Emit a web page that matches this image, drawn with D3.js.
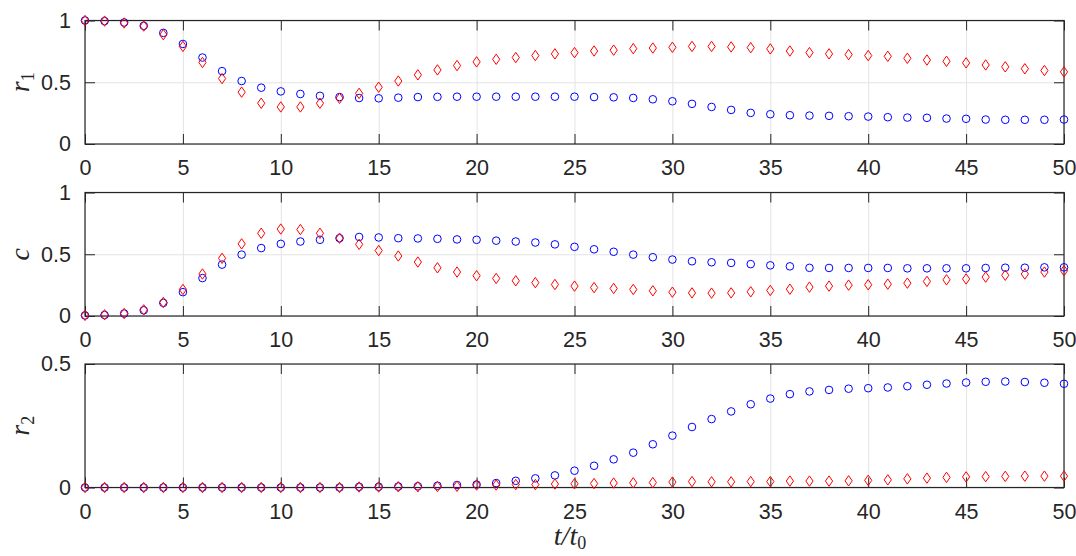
<!DOCTYPE html>
<html><head><meta charset="utf-8">
<script src="https://cdn.jsdelivr.net/npm/d3@7"></script>
<style>body{margin:0;background:#fff}svg{display:block}</style>
</head><body>
<svg id="c" width="1076" height="556"></svg>
<script>
const tVals = [0,1,2,3,4,5,6,7,8,9,10,11,12,13,14,15,16,17,18,19,20,21,22,23,24,25,26,27,28,29,30,31,32,33,34,35,36,37,38,39,40,41,42,43,44,45,46,47,48,49,50];
const xTicks = [0,5,10,15,20,25,30,35,40,45,50];
const yTicksA = [0,0.5,1];
const yTicksB = [0,0.5];
const r1Blue = [1.0,0.995,0.984,0.957,0.90,0.81,0.70,0.59,0.51,0.456,0.426,0.405,0.39,0.38,0.372,0.37,0.375,0.38,0.382,0.383,0.383,0.383,0.383,0.383,0.383,0.383,0.38,0.378,0.373,0.362,0.346,0.325,0.30,0.276,0.252,0.241,0.233,0.23,0.228,0.225,0.222,0.217,0.214,0.212,0.206,0.204,0.198,0.196,0.196,0.196,0.198];
const r1Red = [1.0,0.995,0.98,0.955,0.885,0.79,0.66,0.53,0.42,0.33,0.30,0.30,0.33,0.37,0.41,0.46,0.51,0.56,0.60,0.635,0.665,0.686,0.70,0.716,0.73,0.74,0.753,0.76,0.772,0.777,0.783,0.79,0.79,0.786,0.78,0.77,0.753,0.74,0.73,0.724,0.716,0.71,0.694,0.68,0.67,0.657,0.64,0.625,0.609,0.595,0.584];
const cBlue = [0.005,0.008,0.02,0.046,0.106,0.193,0.307,0.416,0.497,0.55,0.584,0.603,0.617,0.63,0.64,0.636,0.63,0.628,0.625,0.62,0.617,0.61,0.603,0.595,0.58,0.56,0.54,0.52,0.497,0.476,0.457,0.443,0.435,0.43,0.42,0.41,0.402,0.39,0.389,0.389,0.389,0.389,0.386,0.386,0.386,0.386,0.389,0.391,0.391,0.394,0.394];
const cRed = [0.005,0.01,0.02,0.05,0.11,0.215,0.34,0.467,0.584,0.67,0.704,0.70,0.67,0.63,0.58,0.53,0.486,0.437,0.39,0.356,0.326,0.304,0.285,0.27,0.255,0.242,0.23,0.223,0.215,0.204,0.193,0.187,0.185,0.187,0.196,0.207,0.217,0.234,0.242,0.25,0.253,0.258,0.266,0.28,0.293,0.30,0.315,0.33,0.34,0.356,0.367];
const r2Blue = [0,0,0,0,0,0,0,0,0,0,0,0,0,0,0.003,0.003,0.004,0.005,0.007,0.01,0.012,0.018,0.027,0.037,0.049,0.068,0.088,0.114,0.141,0.175,0.21,0.245,0.277,0.308,0.337,0.36,0.378,0.389,0.395,0.40,0.402,0.405,0.41,0.416,0.421,0.425,0.428,0.429,0.427,0.424,0.42];
const r2Red = [0,0,0,0,0,0,0,0,0,0,0,0,0,0,0.002,0.002,0.003,0.003,0.004,0.005,0.01,0.01,0.012,0.012,0.014,0.015,0.016,0.018,0.019,0.02,0.022,0.024,0.023,0.023,0.024,0.024,0.026,0.026,0.026,0.027,0.029,0.031,0.035,0.038,0.041,0.043,0.044,0.045,0.046,0.046,0.046];

const panels = [
  {blue:r1Blue, red:r1Red, ymax:1, yt:yTicksA, label:"r", sub:"1"},
  {blue:cBlue, red:cRed, ymax:1, yt:yTicksA, label:"c", sub:""},
  {blue:r2Blue, red:r2Red, ymax:0.5, yt:yTicksB, label:"r", sub:"2"}
];
const tops = [20.5, 192.5, 364];
const H = 123.5, L = 85, R = 1064;
const svg = d3.select("#c");
const x = d3.scaleLinear().domain([0,50]).range([L,R]);
const axisCol = "#262626";
const fmt = d => d===0?"0":(d===1?"1":String(d));

panels.forEach((p,i)=>{
  const top = tops[i], bot = top+H;
  const y = d3.scaleLinear().domain([0,p.ymax]).range([bot,top]);
  const g = svg.append("g");
  g.append("g").attr("transform",`translate(0,${bot})`)
    .call(d3.axisBottom(x).tickValues(xTicks).tickSize(-H).tickFormat(""))
    .call(s=>{s.select(".domain").remove(); s.selectAll("line").attr("stroke","#e3e3e3").attr("stroke-width",1);});
  g.append("g").attr("transform",`translate(${L},0)`)
    .call(d3.axisLeft(y).tickValues(p.yt).tickSize(-(R-L)).tickFormat(""))
    .call(s=>{s.select(".domain").remove(); s.selectAll("line").attr("stroke","#e3e3e3").attr("stroke-width",1);});
  const styleAx = s=>{s.select(".domain").remove(); s.selectAll("line").attr("stroke",axisCol).attr("stroke-width",1);
    s.selectAll("text").attr("fill",axisCol).style("font-family","'Liberation Sans',Arial,sans-serif").style("font-size","21.5px");};
  g.append("g").attr("transform",`translate(0,${bot})`)
    .call(d3.axisBottom(x).tickValues(xTicks).tickSize(-10).tickPadding(16).tickFormat(d3.format("d"))).call(styleAx);
  g.append("g").attr("transform",`translate(0,${top})`)
    .call(d3.axisTop(x).tickValues(xTicks).tickSize(-10).tickFormat("")).call(styleAx);
  g.append("g").attr("transform",`translate(${L},0)`)
    .call(d3.axisLeft(y).tickValues(p.yt).tickSize(-10).tickPadding(14).tickFormat(fmt)).call(styleAx);
  g.append("g").attr("transform",`translate(${R},0)`)
    .call(d3.axisRight(y).tickValues(p.yt).tickSize(-10).tickFormat("")).call(styleAx);
  g.append("rect").attr("x",L).attr("y",top).attr("width",R-L).attr("height",H)
    .attr("fill","none").attr("stroke",axisCol).attr("stroke-width",1.2);
  g.append("g").selectAll("circle").data(p.blue).join("circle")
    .attr("cx",(d,k)=>x(tVals[k])).attr("cy",d=>y(d)).attr("r",3.8)
    .attr("fill","none").attr("stroke","#0000ff").attr("stroke-width",1);
  g.append("g").selectAll("path").data(p.red).join("path")
    .attr("d",(d,k)=>{const cx=x(tVals[k]), cy=y(d); return `M${cx},${cy-5.2}L${cx+3.6},${cy}L${cx},${cy+5.2}L${cx-3.6},${cy}Z`;})
    .attr("fill","none").attr("stroke","#ff0000").attr("stroke-width",1);
  const lab = svg.append("text").attr("transform",`translate(29,${top+H/2}) rotate(-90)`)
    .attr("text-anchor","middle").attr("fill",axisCol)
    .style("font-family","'Liberation Serif','Times New Roman',serif").style("font-style","italic").style("font-size","28px");
  lab.append("tspan").text(p.label);
  if(p.sub) lab.append("tspan").attr("dy",5).style("font-style","normal").style("font-size","18px").text(p.sub);
});
const xl = svg.append("text").attr("x",570).attr("y",545).attr("text-anchor","middle").attr("fill",axisCol)
  .style("font-family","'Liberation Serif','Times New Roman',serif").style("font-style","italic").style("font-size","28px");
xl.append("tspan").text("t/t");
xl.append("tspan").attr("dy",4).style("font-style","normal").style("font-size","18px").text("0");
</script>
</body></html>
